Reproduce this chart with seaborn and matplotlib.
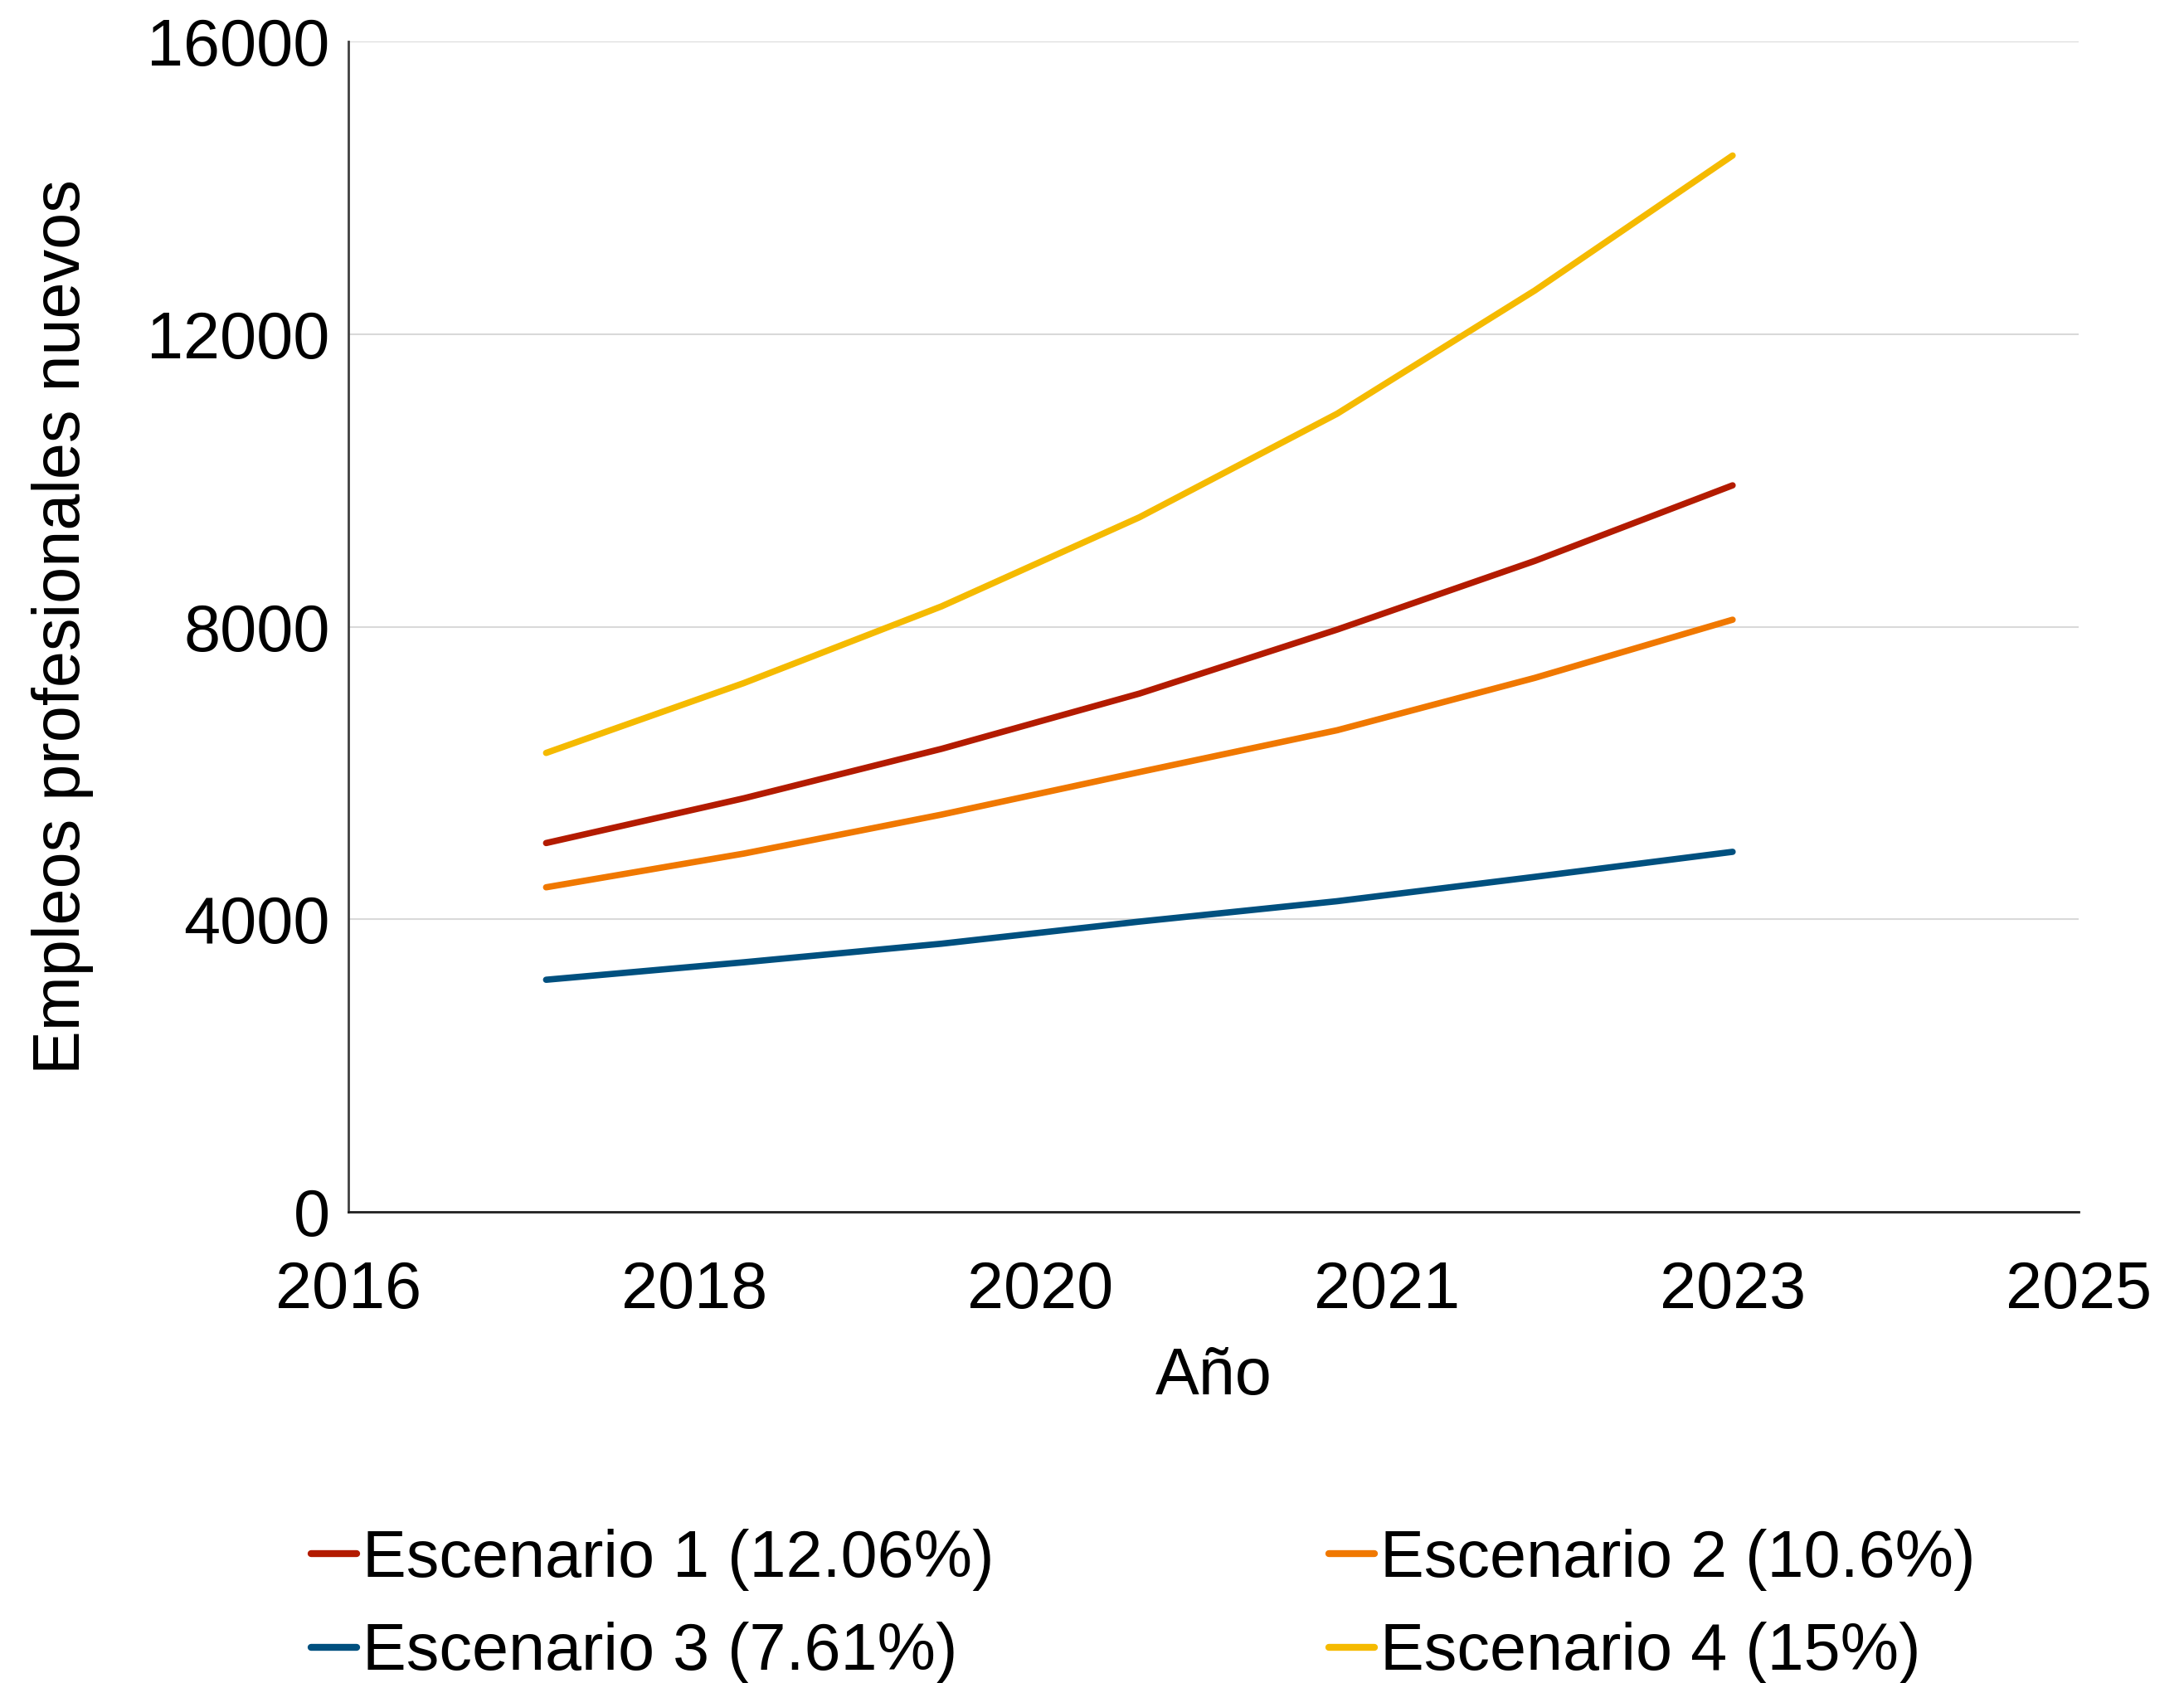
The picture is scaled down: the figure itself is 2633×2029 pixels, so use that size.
import numpy as np
import pandas as pd
import matplotlib
matplotlib.use("Agg")
import matplotlib.pyplot as plt
import seaborn as sns

# ==============================
# Data
# ==============================
years = [2017, 2018, 2019, 2020, 2021, 2022, 2023]
esc1 = [5042, 5654, 6330, 7085, 7960, 8899, 9932]
esc2 = [4437, 4898, 5431, 6012, 6584, 7300, 8095]
esc3 = [3173, 3412, 3666, 3968, 4247, 4580, 4922]
esc4 = [6274, 7229, 8278, 9495, 10911, 12596, 14441]

labels = ["Escenario 1 (12.06%)", "Escenario 2 (10.6%)",
          "Escenario 3 (7.61%)", "Escenario 4 (15%)"]
colors = ["#B31B00", "#F07800", "#00507F", "#F5BA00"]

y_ticks = [0, 4000, 8000, 12000, 16000]
x_min, x_max, x_step = 2016, 2024.75, 1.75

df = pd.DataFrame({
    "Año": years * 4,
    "valor": esc1 + esc2 + esc3 + esc4,
    "serie": [labels[0]] * 7 + [labels[1]] * 7 + [labels[2]] * 7 + [labels[3]] * 7,
})

# ==============================
# Plot
# ==============================
sns.set_style("white")
plt.rcParams["font.family"] = ["Liberation Sans", "DejaVu Sans"]
plt.rcParams["text.color"] = "black"
plt.rcParams["axes.labelcolor"] = "black"
plt.rcParams["xtick.color"] = "black"
plt.rcParams["ytick.color"] = "black"

fig = plt.figure(figsize=(26.33, 20.29), dpi=100)
ax = fig.add_axes([420 / 2633, 1 - 1461 / 2029, (2506 - 420) / 2633, (1461 - 50) / 2029])

sns.lineplot(data=df, x="Año", y="valor", hue="serie", hue_order=labels,
             palette=colors, linewidth=5.5, ax=ax, legend=False)

ax.set_xlim(x_min, x_max)
ax.set_ylim(0, 16000)
xt = np.arange(x_min, x_max + 0.01, x_step)
ax.set_xticks(xt)
ax.set_xticklabels([f"{v:.0f}" for v in xt])
ax.set_yticks(y_ticks)
ax.set_yticklabels([str(v) for v in y_ticks])
ax.tick_params(axis="both", length=0, labelsize=57)
ax.tick_params(axis="x", pad=42)
ax.tick_params(axis="y", pad=16)

ax.grid(axis="y", color="#D9D9D9", linewidth=1.5)
ax.grid(axis="x", visible=False)
sns.despine(ax=ax, top=True, right=True)
ax.spines["left"].set_color("#404040")
ax.spines["left"].set_linewidth(2)
ax.spines["bottom"].set_color("#202020")
ax.spines["bottom"].set_linewidth(2)

ax.set_xlabel("Año", fontsize=57)
ax.xaxis.set_label_coords(0.5, -0.115)
ax.set_ylabel("Empleos profesionales nuevos", fontsize=57)
ax.yaxis.set_label_coords(-0.147, 0.5)

# legend in row order: 1 2 / 3 4
handles = [plt.Line2D([], [], color=c, linewidth=6) for c in colors]
order = [0, 2, 1, 3]
fig.legend([handles[i] for i in order], [labels[i] for i in order],
           ncol=2, loc="upper left", bbox_to_anchor=(375 / 2633, 1 - 1843 / 2029),
           frameon=False, fontsize=57, handlelength=0.7, handletextpad=0.08,
           columnspacing=5.1, labelspacing=0.47, borderpad=0, borderaxespad=0)

fig.savefig("out.png", dpi=100)
